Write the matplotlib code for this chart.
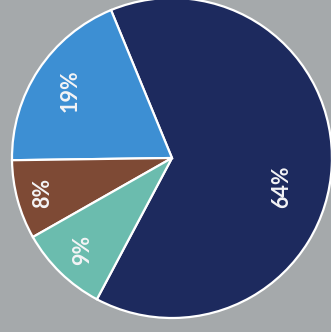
import numpy as np
import matplotlib
matplotlib.use("Agg")
import matplotlib.pyplot as plt

# Share of each segment (percent)
labels = ["A", "B", "C", "D"]
shares = [64, 19, 8, 9]
colors = ["#1d2a5e", "#3d8fd3", "#7e4a35", "#6bbcae"]
pct_labels = ["64%", "19%", "8%", "9%"]

bg = "#a5a9ab"
fig = plt.figure(figsize=(3.31, 3.32), dpi=100, facecolor=bg)
ax = fig.add_axes([0, 0, 1, 1])
ax.set_facecolor(bg)

wedges, _ = ax.pie(
    shares,
    colors=colors,
    startangle=-118,
    counterclock=True,
    radius=1.0,
    wedgeprops=dict(edgecolor="white", linewidth=1.6),
)

# Percentage labels, rotated with the chart
label_r = [0.71, 0.76, 0.84, 0.80]
angle_shift = [-12, 0, 0, 0]
for w, txt, r, da in zip(wedges, pct_labels, label_r, angle_shift):
    mid = np.deg2rad((w.theta1 + w.theta2) / 2 + da)
    ax.text(r * np.cos(mid), r * np.sin(mid), txt, rotation=90,
            ha="center", va="center", color="#f4f4f6", fontsize=15.5,
            fontweight="bold", family="Lato")

ax.set_xlim(-1.075, 0.994)
ax.set_ylim(-1.0875, 0.9875)
ax.set_aspect("auto")
ax.axis("off")

fig.savefig("out.png", dpi=100, facecolor=bg)
